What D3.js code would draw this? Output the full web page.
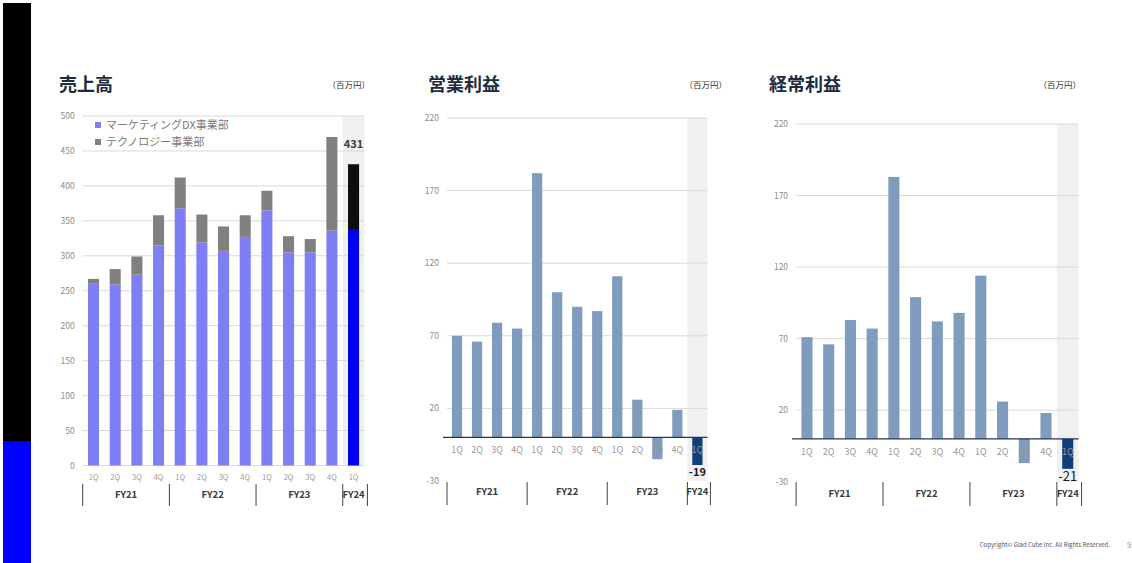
<!DOCTYPE html>
<html>
<head>
<meta charset="utf-8">
<script src="https://cdn.jsdelivr.net/npm/d3@7"></script>
<style>
  body { margin: 0; background: #fff; }
  svg { display: block; font-family: "Noto Sans CJK JP", "Noto Sans", sans-serif; }
</style>
</head>
<body>
<svg id="chart" width="1132" height="563"></svg>
<script>
// quarters / fiscal years
var quarters = ['1Q','2Q','3Q','4Q','1Q','2Q','3Q','4Q','1Q','2Q','3Q','4Q','1Q'];
var fyLabels = ['FY21','FY22','FY23','FY24'];
var fyCounts = [4, 4, 4, 1];

// 売上高 (stacked)
var salesDX   = [260, 259, 273, 315, 368, 319, 307, 327, 365, 305, 305, 336, 337];
var salesTech = [7, 22, 26, 43, 44, 40, 35, 31, 28, 23, 19, 134, 94];
var salesTicks = [0, 50, 100, 150, 200, 250, 300, 350, 400, 450, 500];
var legendNames = ['マーケティングDX事業部', 'テクノロジー事業部'];

// 営業利益 / 経常利益
var opIncome  = [70, 66, 79, 75, 182, 100, 90, 87, 111, 26, -15, 19, -19];
var ordIncome = [71, 66, 83, 77, 183, 99, 82, 88, 114, 26, -17, 18, -21];
var profitTicks = [-30, 20, 70, 120, 170, 220];

var svg = d3.select("#chart");

// left decoration strip
svg.append("rect").attr("x", 3).attr("y", 3).attr("width", 28).attr("height", 438).attr("fill", "#000");
svg.append("rect").attr("x", 3).attr("y", 441).attr("width", 28).attr("height", 122).attr("fill", "#0000ff");

var idx = d3.range(quarters.length).map(String);

function panel(opt) {
  var g = svg.append("g");
  var x = d3.scaleBand().domain(idx).range([opt.x0, opt.x1])
    .paddingInner(0.49).paddingOuter(0.245);
  var y = d3.scaleLinear().domain(opt.domain).range(opt.yRange);

  // title + unit
  g.append("text").attr("x", opt.titleX).attr("y", 91)
    .attr("font-size", 18).attr("font-weight", "bold").attr("fill", "#1c2b3f")
    .text(opt.title);
  g.append("text").attr("x", opt.unitX).attr("y", 88).attr("text-anchor", "end")
    .attr("font-size", 8.5).attr("fill", "#333").text("（百万円）");

  // shaded FY24 column
  var last = idx[idx.length - 1];
  g.append("rect")
    .attr("x", x(last) - x.step() * x.paddingInner() / 2)
    .attr("y", y(opt.domain[1]))
    .attr("width", x.step())
    .attr("height", opt.bandBottom - y(opt.domain[1]))
    .attr("fill", "#f0f0f0");

  // grid + tick labels
  var grid = opt.ticks.filter(function(t){ return opt.gridAt(t); });
  g.selectAll(".grid").data(grid).enter().append("line")
    .attr("x1", opt.x0).attr("x2", opt.x1)
    .attr("y1", function(d){ return y(d); }).attr("y2", function(d){ return y(d); })
    .attr("stroke", "#d9d9d9").attr("stroke-width", 1);
  g.selectAll(".tick").data(opt.ticks).enter().append("text")
    .attr("x", opt.x0 - 8).attr("y", function(d){ return y(d) + 3; })
    .attr("text-anchor", "end").attr("font-size", 8.5).attr("fill", "#8c8c8c")
    .text(function(d){ return d; });

  opt.drawBars(g, x, y);

  // quarter labels
  g.selectAll(".q").data(quarters).enter().append("text")
    .attr("x", function(d, i){ return x(String(i)) + x.bandwidth() / 2; })
    .attr("y", opt.qY).attr("text-anchor", "middle")
    .attr("font-size", opt.qSize).attr("fill", "#9a9a9a")
    .text(function(d){ return d; });

  // fiscal year groups
  var start = 0, seps = [];
  fyLabels.forEach(function(lab, k) {
    var a = opt.x0 + start * x.step();
    var b = opt.x0 + (start + fyCounts[k]) * x.step();
    seps.push(a);
    g.append("text").attr("x", (a + b) / 2).attr("y", opt.fyY)
      .attr("text-anchor", "middle").attr("font-size", 9.5).attr("font-weight", "bold")
      .attr("fill", "#3a3a3a").text(lab);
    start += fyCounts[k];
  });
  seps.push(opt.x1 + 3);
  g.selectAll(".sep").data(seps).enter().append("line")
    .attr("x1", function(d){ return d; }).attr("x2", function(d){ return d; })
    .attr("y1", opt.sepY[0]).attr("y2", opt.sepY[1])
    .attr("stroke", "#404040").attr("stroke-width", 1);
  return g;
}

// 売上高
panel({
  title: "売上高", titleX: 59, unitX: 370,
  x0: 82.7, x1: 364.4, domain: [0, 500], yRange: [465.5, 116], bandBottom: 465.5,
  ticks: salesTicks, gridAt: function(){ return true; },
  qY: 480, qSize: 7.5, fyY: 498, sepY: [484, 506],
  drawBars: function(g, x, y) {
    var n = quarters.length;
    var rows = salesDX.map(function(v, i){ return { i: i, dx: v, tech: salesTech[i] }; });
    var stack = d3.stack().keys(["dx", "tech"])(rows);
    var colors = [["#7f7ff5", "#0000ee"], ["#808080", "#0d0d0d"]];
    stack.forEach(function(layer, li) {
      g.selectAll(".s" + li).data(layer).enter().append("rect")
        .attr("x", function(d){ return x(String(d.data.i)); })
        .attr("width", x.bandwidth())
        .attr("y", function(d){ return y(d[1]); })
        .attr("height", function(d){ return y(d[0]) - y(d[1]); })
        .attr("fill", function(d){ return d.data.i === n - 1 ? colors[li][1] : colors[li][0]; });
    });
    var lastTotal = salesDX[n - 1] + salesTech[n - 1];
    g.append("text").attr("x", x(String(n - 1)) + x.bandwidth() / 2)
      .attr("y", y(lastTotal) - 16).attr("text-anchor", "middle")
      .attr("font-size", 11).attr("font-weight", "bold").attr("fill", "#404040")
      .text(lastTotal);
    // legend
    var lg = g.append("g");
    legendNames.forEach(function(name, k) {
      lg.append("rect").attr("x", 95).attr("y", 122 + k * 17).attr("width", 6).attr("height", 6)
        .attr("fill", colors[k][0]);
      lg.append("text").attr("x", 106).attr("y", 129 + k * 17)
        .attr("font-size", 11).attr("fill", "#7a7a7a").text(name);
    });
  }
});

function profitBars(values, labelSize, labelBold, labelDy) {
  return function(g, x, y) {
    var n = values.length;
    g.selectAll(".b").data(values).enter().append("rect")
      .attr("x", function(d, i){ return x(String(i)); })
      .attr("width", x.bandwidth())
      .attr("y", function(d){ return y(Math.max(0, d)); })
      .attr("height", function(d){ return Math.abs(y(d) - y(0)); })
      .attr("fill", function(d, i){ return i === n - 1 ? "#0f3f7c" : "#7f9cbf"; });
    g.append("line").attr("x1", x.range()[0] - 4).attr("x2", x.range()[1])
      .attr("y1", y(0)).attr("y2", y(0))
      .attr("stroke", "#24364f").attr("stroke-width", 1.2);
    g.append("text").attr("x", x(String(n - 1)) + x.bandwidth() / 2)
      .attr("y", y(values[n - 1]) + labelDy).attr("text-anchor", "middle")
      .attr("font-size", labelSize).attr("font-weight", labelBold ? "bold" : "normal")
      .attr("fill", "#1a1a1a").text(values[n - 1]);
  };
}

// 営業利益
panel({
  title: "営業利益", titleX: 428, unitX: 727,
  x0: 447, x1: 707.4, domain: [-30, 220], yRange: [481, 118], bandBottom: 481,
  ticks: profitTicks, gridAt: function(t){ return t > 0; },
  qY: 453, qSize: 9, fyY: 495, sepY: [482, 505],
  drawBars: profitBars(opIncome, 11, true, 11)
});

// 経常利益
panel({
  title: "経常利益", titleX: 769, unitX: 1081,
  x0: 796.1, x1: 1078.6, domain: [-30, 220], yRange: [481.7, 124], bandBottom: 482,
  ticks: profitTicks, gridAt: function(t){ return t > 0; },
  qY: 455, qSize: 9, fyY: 497, sepY: [482, 506],
  drawBars: profitBars(ordIncome, 13, false, 12)
});

// footer
svg.append("text").attr("x", 1110).attr("y", 547).attr("text-anchor", "end")
  .attr("font-size", 6).attr("fill", "#555")
  .text("Copyright© Glad Cube Inc. All Rights Reserved.");
svg.append("text").attr("x", 1127).attr("y", 548).attr("font-size", 8).attr("fill", "#999").text("9");
</script>
</body>
</html>
